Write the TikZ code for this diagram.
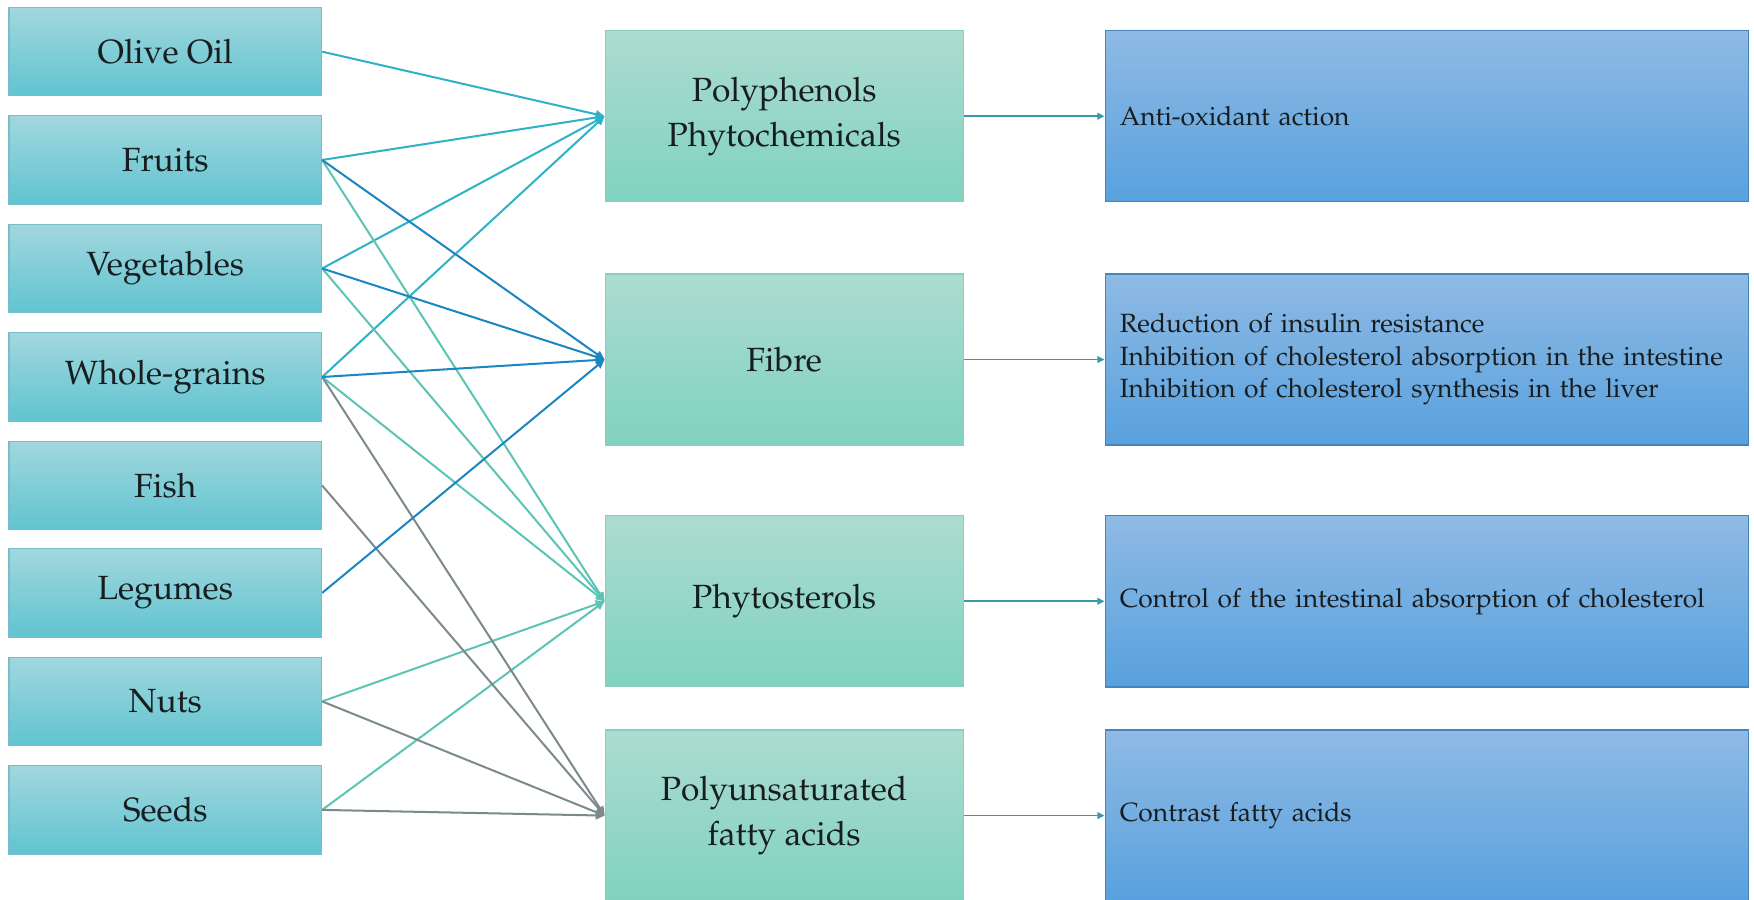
\documentclass[tikz,border=0pt]{standalone}
\usepackage[T1]{fontenc}
\usepackage{mathpazo}
\usetikzlibrary{arrows.meta}
\definecolor{leftTop}{RGB}{162,215,222}
\definecolor{leftBot}{RGB}{96,196,208}
\definecolor{leftBorder}{RGB}{120,190,200}
\definecolor{midTop}{RGB}{172,220,208}
\definecolor{midBot}{RGB}{128,210,191}
\definecolor{midBorder}{RGB}{140,205,190}
\definecolor{rightTop}{RGB}{143,186,228}
\definecolor{rightBot}{RGB}{88,161,222}
\definecolor{rightBorder}{RGB}{70,132,190}
\definecolor{cPoly}{RGB}{46,178,198}
\definecolor{cFibre}{RGB}{26,134,194}
\definecolor{cPhyto}{RGB}{92,196,180}
\definecolor{cPufa}{RGB}{125,138,140}
\definecolor{cOut}{RGB}{58,154,168}
\definecolor{txt}{RGB}{24,30,32}
\begin{document}
\begin{tikzpicture}[x=0.5pt,y=-0.5pt,
  food/.style={draw=leftBorder, line width=0.5pt, top color=leftTop, bottom color=leftBot,
    minimum width=139.75pt, minimum height=39.5pt, inner sep=0pt, text=txt,
    font=\fontsize{15}{18}\selectfont},
  comp/.style={draw=midBorder, line width=0.5pt, top color=midTop, bottom color=midBot,
    minimum width=160pt, minimum height=76.5pt, inner sep=0pt, align=center, text=txt,
    font=\fontsize{15}{20}\selectfont},
  effect/.style={draw=rightBorder, line width=0.6pt, top color=rightTop, bottom color=rightBot,
    text width=274.5pt, inner xsep=6.5pt, inner ysep=0pt, minimum height=76.5pt,
    align=left, text=txt, font=\fontsize{11.8}{14.5}\selectfont},
  link/.style={line width=0.9pt, -{Triangle[length=4pt,width=3.6pt]}},
  outlink/.style={line width=0.7pt, draw=cOut, -{Triangle[length=3.2pt,width=3pt]}}
]
\useasboundingbox (0,0) rectangle (1568,804);
% food sources
\node[food] (oil)  at (147.75,46.2) {Olive Oil};
\node[food] (fru)  at (147.75,143)  {Fruits};
\node[food] (veg)  at (147.75,240)  {Vegetables};
\node[food] (gra)  at (147.75,337)  {Whole-grains};
\node[food] (fish) at (147.75,434)  {Fish};
\node[food] (leg)  at (147.75,530)  {Legumes};
\node[food] (nuts) at (147.75,627)  {Nuts};
\node[food] (seed) at (147.75,724)  {Seeds};
% components
\node[comp] (poly)  at (701,103.9) {Polyphenols\\Phytochemicals};
\node[comp] (fib)   at (701,321.4) {Fibre};
\node[comp] (phyto) at (701,537.5) {Phytosterols};
\node[comp] (pufa)  at (701,729.1) {Polyunsaturated\\fatty acids};
% effects
\node[effect] (e1) at (1275.5,103.9) {Anti-oxidant action};
\node[effect] (e2) at (1275.5,321.4) {Reduction of insulin resistance\\Inhibition of cholesterol absorption in the intestine\\Inhibition of cholesterol synthesis in the liver};
\node[effect] (e3) at (1275.5,537.5) {Control of the intestinal absorption of cholesterol};
\node[effect] (e4) at (1275.5,729.1) {Contrast fatty acids};
% links to polyphenols
\foreach \s in {oil,fru,veg,gra} \draw[link,draw=cPoly,fill=cPoly] (\s.east) -- (poly.west);
% links to phytosterols
\foreach \s in {fru,veg,gra,nuts,seed} \draw[link,draw=cPhyto,fill=cPhyto] (\s.east) -- (phyto.west);
% links to PUFA
\foreach \s in {gra,fish,nuts,seed} \draw[link,draw=cPufa,fill=cPufa] (\s.east) -- (pufa.west);
% links to fibre
\foreach \s in {fru,veg,gra,leg} \draw[link,draw=cFibre,fill=cFibre] (\s.east) -- (fib.west);
% outputs
\draw[outlink] (poly.east) -- (e1.west);
\draw[outlink] (fib.east) -- (e2.west);
\draw[outlink] (phyto.east) -- (e3.west);
\draw[outlink] (pufa.east) -- (e4.west);
\end{tikzpicture}
\end{document}
